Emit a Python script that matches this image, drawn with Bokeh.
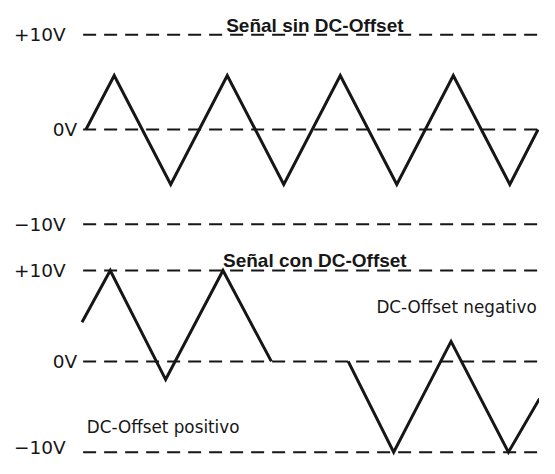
from bokeh.plotting import figure
from bokeh.models import Range1d
from bokeh.core.properties import value
from bokeh.embed import file_html
from bokeh.resources import INLINE

# ---- data (time in quarter-periods, voltage in V) ----
levels = [10, 0, -10]
level_labels = ["+10V", "0V", "\u221210V"]

top_t = [0, 1, 3, 5, 7, 9, 11, 13, 15, 16]
top_v = [0, 5.7, -5.8, 5.7, -5.8, 5.7, -5.8, 5.7, -5.8, 0]

pos_t = [-0.14, 0.86, 2.82, 4.85, 6.56]
pos_v = [4.3, 10, -2.0, 10, 0]

neg_t = [9.28, 10.89, 12.92, 14.95, 16.05]
neg_v = [0, -10, 2.2, -10, -4.1]

title_top = "Señal sin DC-Offset"
title_bottom = "Señal con DC-Offset"
note_neg = "DC-Offset negativo"
note_pos = "DC-Offset positivo"

INK = "#161616"
LIGHT_FONT = value("DejaVu Sans")
BOLD_FONT = value("Liberation Sans")

p = figure(width=539, height=458,
           x_range=Range1d(-3.024, 16.05),
           y_range=Range1d(-34.74, 13.62),
           output_backend="svg", toolbar_location=None,
           min_border=0)
p.extra_y_ranges = {"bottom": Range1d(-10.69, 39.73)}
p.xaxis.visible = False
p.yaxis.visible = False
p.grid.visible = False
p.outline_line_color = None
p.background_fill_color = "white"
p.border_fill_color = "white"

# dashed reference levels, both panels
for rng in ["default", "bottom"]:
    for lv in levels:
        p.line([-0.1, 16.2], [lv, lv], y_range_name=rng,
               line_color=INK, line_width=2, line_dash="13 8")

# waves
p.line(top_t, top_v, line_color=INK, line_width=3, line_join="miter")
p.line(pos_t, pos_v, y_range_name="bottom", line_color=INK, line_width=3, line_join="miter")
p.line(neg_t, neg_v, y_range_name="bottom", line_color=INK, line_width=3, line_join="miter")

# level labels
label_x = [-0.72, -0.31, -0.72]
p.text(x=label_x, y=levels, text=level_labels,
       text_align="right", text_baseline="middle",
       text_font=LIGHT_FONT, text_font_size="18.5px", text_color=INK)
p.text(x=label_x, y=[10, 0, -9.5], text=level_labels, y_range_name="bottom",
       text_align="right", text_baseline="middle",
       text_font=LIGHT_FONT, text_font_size="18.5px", text_color=INK)

# titles
p.text(x=[8.1], y=[10.97], text=[title_top], text_align="center",
       text_baseline="alphabetic", text_font=BOLD_FONT, text_font_style="bold",
       text_font_size="19px", text_color=INK)
p.text(x=[8.1], y=[11.1], text=[title_bottom], y_range_name="bottom",
       text_align="center", text_baseline="alphabetic", text_font=BOLD_FONT,
       text_font_style="bold", text_font_size="19px", text_color=INK)

# notes
p.text(x=[15.95], y=[6.0], text=[note_neg], y_range_name="bottom",
       text_align="right", text_baseline="alphabetic",
       text_font=LIGHT_FONT, text_font_size="16.8px", text_color=INK)
p.text(x=[0.03], y=[-7.2], text=[note_pos], y_range_name="bottom",
       text_align="left", text_baseline="alphabetic",
       text_font=LIGHT_FONT, text_font_size="16.8px", text_color=INK)

open("out.html", "w").write(file_html(p, INLINE))
